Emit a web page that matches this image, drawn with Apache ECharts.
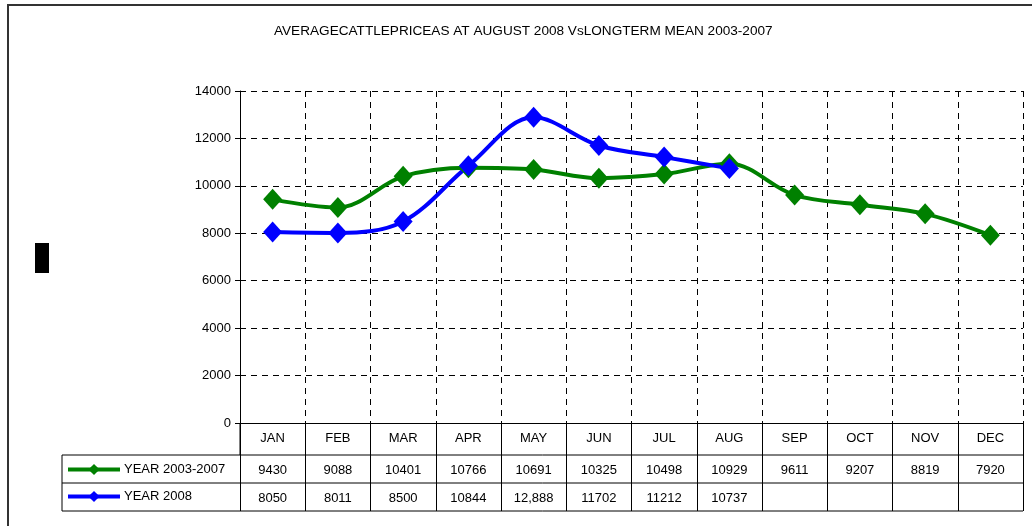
<!DOCTYPE html>
<html>
<head>
<meta charset="utf-8">
<script src="https://cdn.jsdelivr.net/npm/echarts@6/dist/echarts.min.js"></script>
<style>
    html, body { margin: 0; padding: 0; background: #fff; }
    #chart { width: 1032px; height: 526px; }
</style>
</head>
<body>
<div id="chart"></div>
<script>
var months = ['JAN', 'FEB', 'MAR', 'APR', 'MAY', 'JUN', 'JUL', 'AUG', 'SEP', 'OCT', 'NOV', 'DEC'];
var mean0307 = [9430, 9088, 10401, 10766, 10691, 10325, 10498, 10929, 9611, 9207, 8819, 7920];
var year2008 = [8050, 8011, 8500, 10844, 12888, 11702, 11212, 10737];
// text as it is printed in the data table
var row0307 = ['9430', '9088', '10401', '10766', '10691', '10325', '10498', '10929', '9611', '9207', '8819', '7920'];
var row2008 = ['8050', '8011', '8500', '10844', '12,888', '11702', '11212', '10737', '', '', '', ''];

var FONT = '"Liberation Sans", Arial, sans-serif';

showChart();

function showChart() {
    var chart = echarts.init(document.getElementById('chart'));

    var gridLeft = 240, gridRight = 1023, gridTop = 91, gridBottom = 423;

    var option = {
        animation: false,
        textStyle: { fontFamily: FONT },
        title: {
            text: 'AVERAGECATTLEPRICEAS AT AUGUST 2008 VsLONGTERM MEAN 2003-2007',
            left: 274,
            top: 24,
            padding: 0,
            textStyle: { fontSize: 13.6, fontWeight: 'normal', color: '#000', fontFamily: FONT }
        },
        legend: {
            orient: 'vertical',
            left: 66,
            top: 463,
            padding: 0,
            itemWidth: 52,
            itemHeight: 14,
            itemGap: 14,
            lineStyle: { width: 4 },
            textStyle: { fontSize: 13, color: '#000', padding: [2, 0, 0, -1] },
            data: ['YEAR 2003-2007', 'YEAR 2008']
        },
        grid: {
            left: gridLeft,
            right: 1032 - gridRight,
            top: gridTop,
            bottom: 526 - gridBottom
        },
        xAxis: [{
            type: 'category',
            data: months,
            boundaryGap: true,
            axisLine: { lineStyle: { color: '#000', width: 1 } },
            axisTick: { show: true, length: 88, lineStyle: { color: '#000' } },
            axisLabel: { color: '#000', fontSize: 13, margin: 9 },
            splitLine: { show: true, lineStyle: { color: '#000', type: [6, 5] } }
        }, {
            type: 'category',
            data: row0307,
            position: 'bottom',
            offset: 32,
            axisLine: { show: false },
            axisTick: { show: false },
            axisLabel: { color: '#000', fontSize: 13, margin: 9, interval: 0 }
        }, {
            type: 'category',
            data: row2008,
            position: 'bottom',
            offset: 60,
            axisLine: { show: false },
            axisTick: { show: false },
            axisLabel: { color: '#000', fontSize: 13, margin: 9, interval: 0 }
        }],
        yAxis: {
            type: 'value',
            min: 0,
            max: 14000,
            interval: 2000,
            axisLine: { show: true, lineStyle: { color: '#000' } },
            axisTick: { show: true, length: 5, lineStyle: { color: '#000' } },
            axisLabel: { color: '#000', fontSize: 13, margin: 9, formatter: function(v) { return String(v); } },
            splitLine: { show: true, lineStyle: { color: '#000', type: [6, 5] } }
        },
        series: [{
            name: 'YEAR 2003-2007',
            type: 'line',
            smooth: 0.35,
            data: mean0307,
            symbol: 'diamond',
            symbolSize: [19, 21],
            itemStyle: { color: '#008000' },
            lineStyle: { color: '#008000', width: 4 }
        }, {
            name: 'YEAR 2008',
            type: 'line',
            smooth: 0.35,
            data: year2008,
            symbol: 'diamond',
            symbolSize: [19, 21],
            itemStyle: { color: '#0000ff' },
            lineStyle: { color: '#0000ff', width: 4 }
        }],
        graphic: [
            // outer frame
            { type: 'rect', shape: { x: 8, y: 5, width: 1040, height: 540 }, style: { fill: null, stroke: '#333', lineWidth: 2 } },
            // y axis extends through header row
            { type: 'line', shape: { x1: gridLeft, y1: gridBottom, x2: gridLeft, y2: 455 }, style: { stroke: '#000', lineWidth: 1 } },
            // table rows
            { type: 'line', shape: { x1: 62, y1: 455, x2: gridRight, y2: 455 }, style: { stroke: '#000', lineWidth: 1 } },
            { type: 'line', shape: { x1: 62, y1: 483, x2: gridRight, y2: 483 }, style: { stroke: '#000', lineWidth: 1 } },
            { type: 'line', shape: { x1: 62, y1: 511, x2: gridRight, y2: 511 }, style: { stroke: '#000', lineWidth: 1 } },
            { type: 'line', shape: { x1: 62, y1: 455, x2: 62, y2: 511 }, style: { stroke: '#000', lineWidth: 1 } },
            // axis title block
            { type: 'rect', shape: { x: 35, y: 243, width: 14, height: 30 }, style: { fill: '#000' } }
        ]
    };

    chart.setOption(option);
}
</script>
</body>
</html>
